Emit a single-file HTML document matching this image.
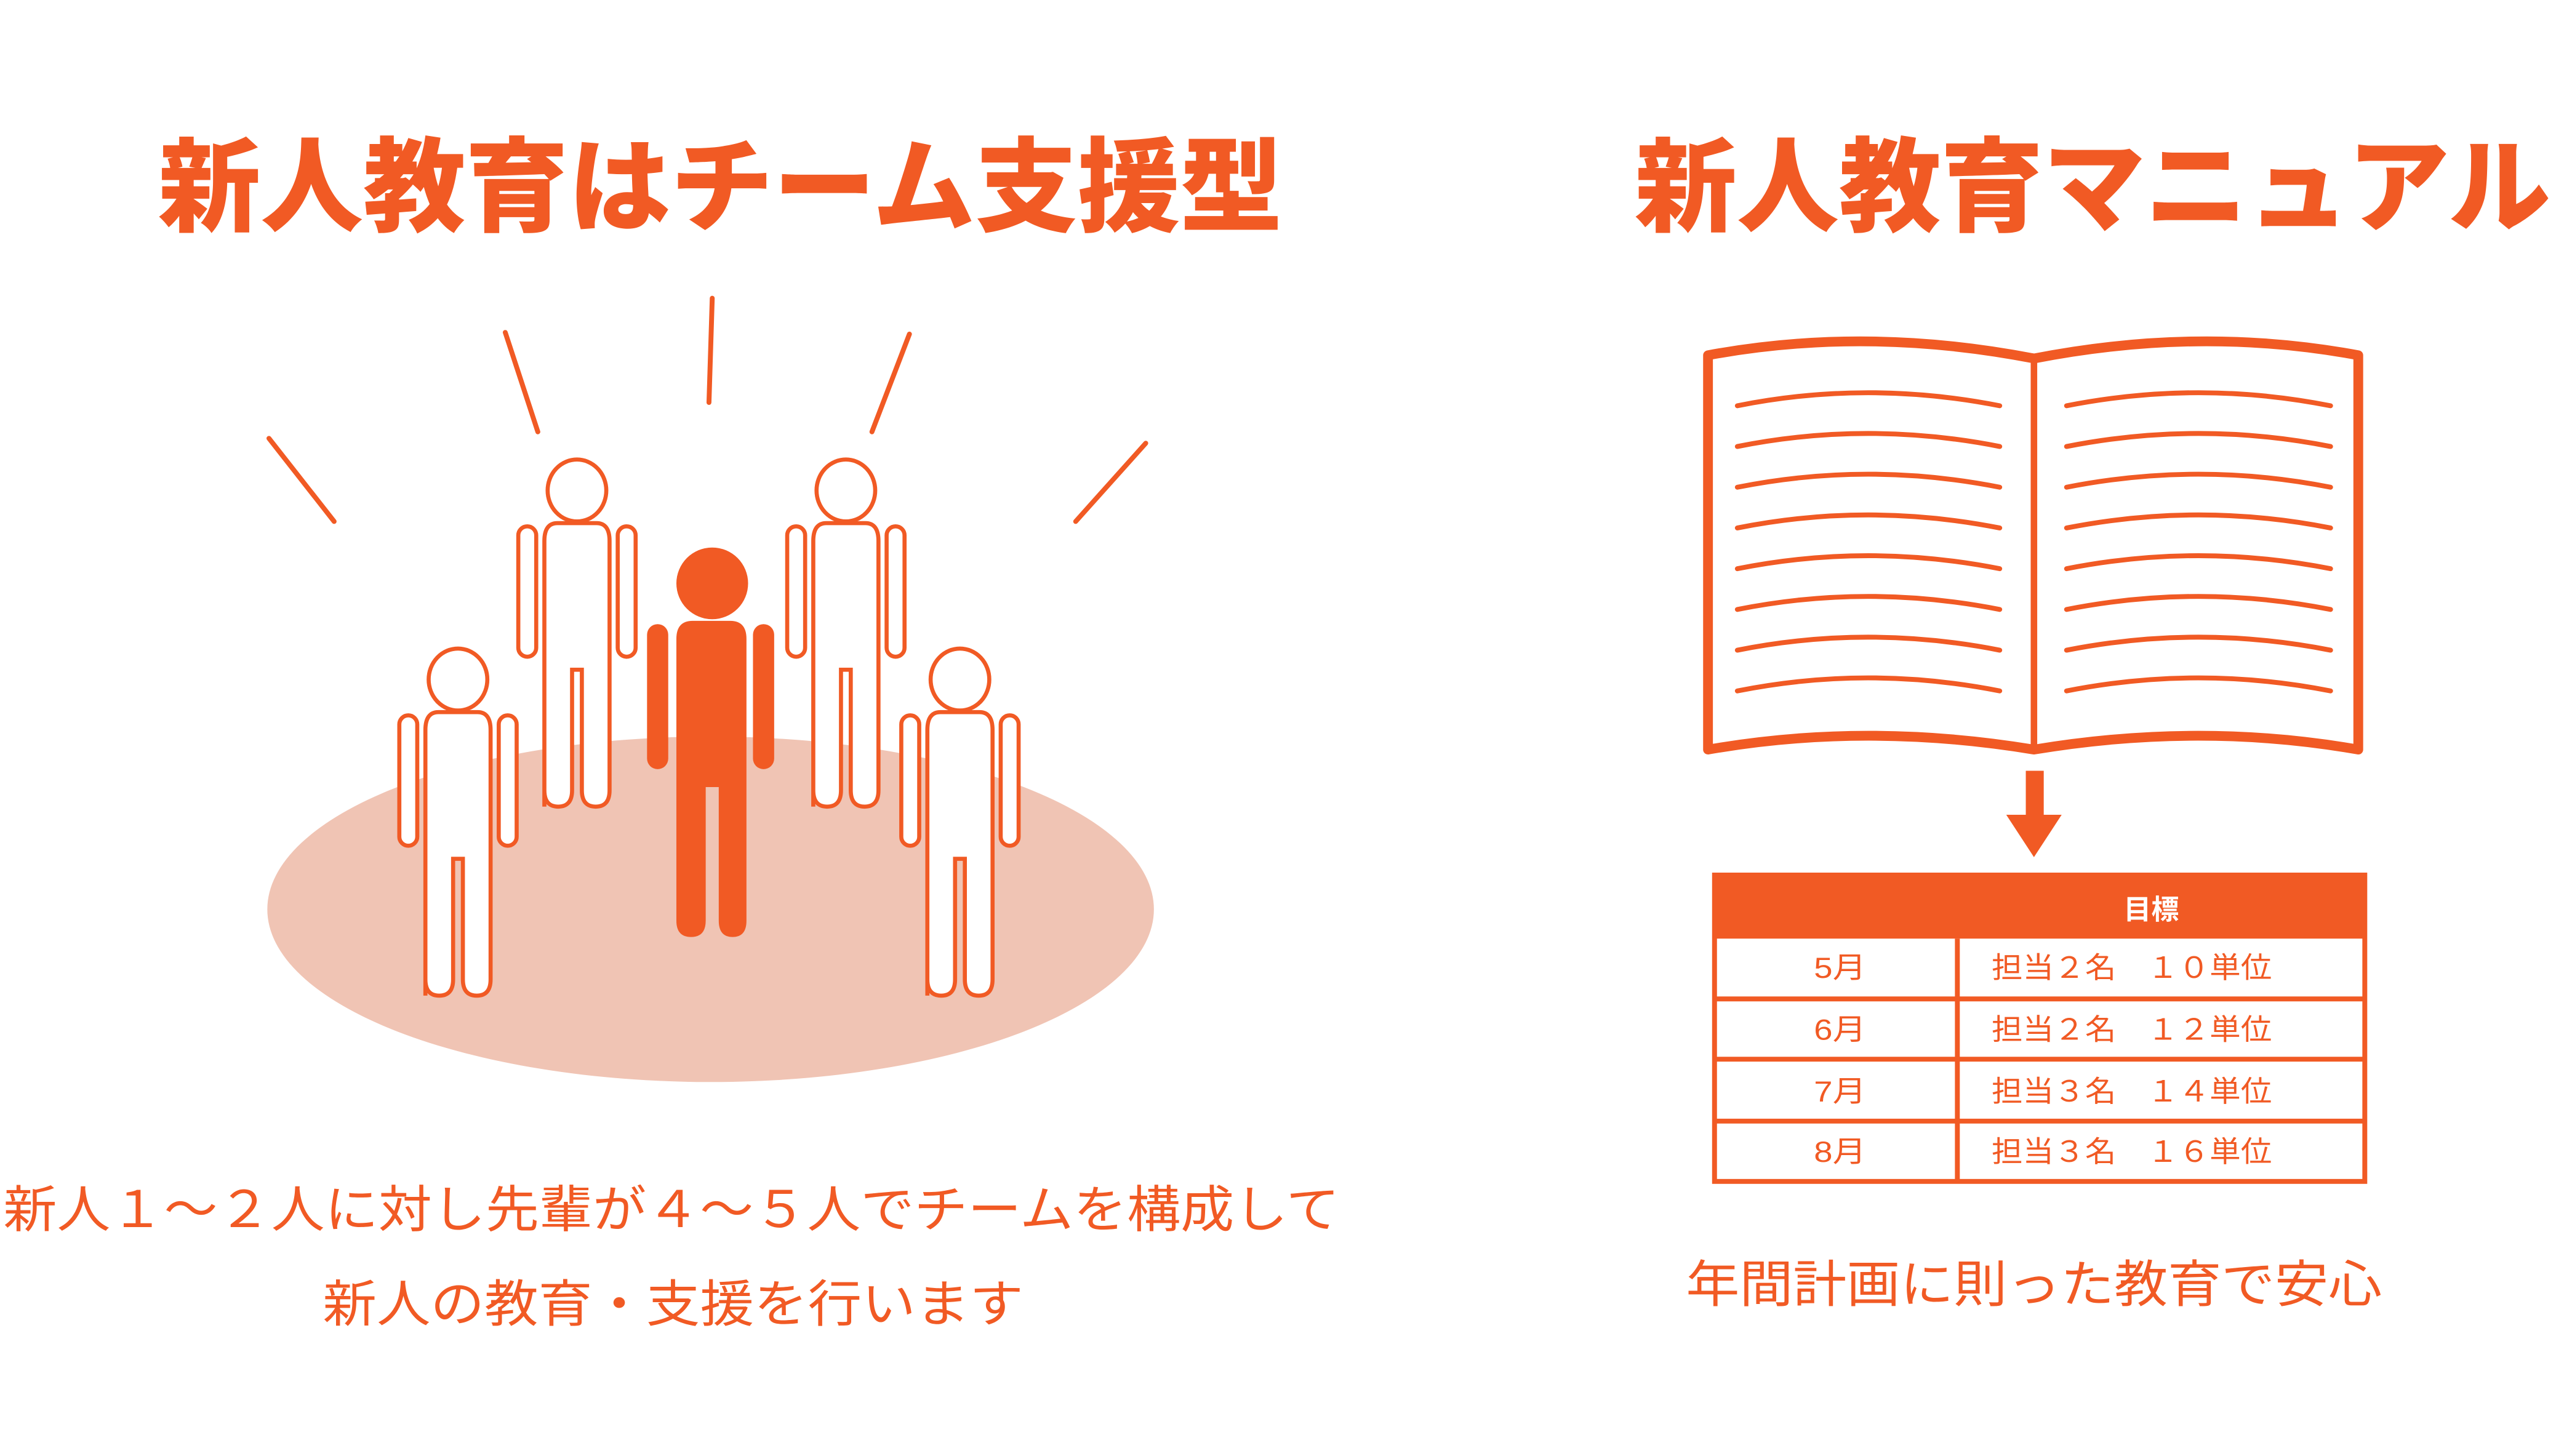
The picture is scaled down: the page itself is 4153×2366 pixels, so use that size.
<!DOCTYPE html>
<html><head><meta charset="utf-8"><style>
html,body{margin:0;padding:0;background:#fff;}
svg{display:block;}
text{font-family:"Liberation Sans","Noto Sans CJK JP",sans-serif;}
</style></head><body>
<svg width="4153" height="2366" viewBox="0 0 1568.3 893.5" xmlns="http://www.w3.org/2000/svg">
<defs>
<g id="p">
  <ellipse cx="0" cy="19" rx="18" ry="19" fill="#fff" stroke="#f15a24" stroke-width="2.5"/>
  <rect x="-36" y="41" width="11" height="80" rx="5.5" fill="#fff" stroke="#f15a24" stroke-width="2.5"/>
  <rect x="25" y="41" width="11" height="80" rx="5.5" fill="#fff" stroke="#f15a24" stroke-width="2.5"/>
  <path d="M-20,213 L-20,50 Q-20,39 -12,39 L12,39 Q20,39 20,50 L20,203 Q20,213 11.5,213 Q3,213 3,203 L3,129 L-3,129 L-3,203 Q-3,213 -11.5,213 Q-20,213 -20,203 Z" fill="#fff" stroke="#f15a24" stroke-width="2.5"/>
</g>
</defs>
<g fill="#f15a24" font-weight="900">
<text x="97" y="137" font-size="63" textLength="690" lengthAdjust="spacingAndGlyphs">新人教育はチーム支援型</text>
<text x="1003" y="137" font-size="63" textLength="562" lengthAdjust="spacingAndGlyphs">新人教育マニュアル</text>
</g>
<g stroke="#f15a24" stroke-width="3" stroke-linecap="round">
<line x1="165" y1="269" x2="205" y2="320"/>
<line x1="310" y1="204" x2="330" y2="265"/>
<line x1="437" y1="183" x2="435" y2="247"/>
<line x1="558" y1="205" x2="535" y2="265"/>
<line x1="703" y1="272" x2="660" y2="320"/>
</g>
<ellipse cx="436" cy="558" rx="272" ry="106" fill="#f0c4b4"/>
<use href="#p" transform="translate(354,282)"/>
<use href="#p" transform="translate(519,282)"/>
<use href="#p" transform="translate(281,398)"/>
<use href="#p" transform="translate(589,398)"/>
<g fill="#f15a24">
<ellipse cx="437" cy="358" rx="22" ry="22"/>
<rect x="397" y="383" width="13" height="89" rx="6.5"/>
<rect x="462" y="383" width="13" height="89" rx="6.5"/>
<path d="M415,565 L415,392 Q415,381 425,381 L448,381 Q458,381 458,392 L458,565 Q458,575 449.5,575 Q441,575 441,565 L441,483 L433,483 L433,565 Q433,575 424,575 Q415,575 415,565 Z"/>
</g>
<g fill="#f15a24">
<text x="412" y="753" font-size="31" text-anchor="middle" textLength="820" lengthAdjust="spacingAndGlyphs">新人１～２人に対し先輩が４～５人でチームを構成して</text>
<text x="413" y="811" font-size="31" text-anchor="middle" textLength="430" lengthAdjust="spacingAndGlyphs">新人の教育・支援を行います</text>
<text x="1248" y="799" font-size="31" text-anchor="middle" textLength="427" lengthAdjust="spacingAndGlyphs">年間計画に則った教育で安心</text>
</g>
<g fill="none" stroke="#f15a24" stroke-linejoin="round">
<path d="M1048,218 Q1145,200 1248,220 Q1350,200 1447,218 L1447,460 Q1350,443 1248,460 Q1145,443 1048,460 Z" stroke-width="6"/>
<line x1="1248" y1="220" x2="1248" y2="460" stroke-width="4"/>
<g stroke-width="3" stroke-linecap="round">
<path d="M1066,249 Q1146,233 1227,249"/><path d="M1066,274 Q1146,258 1227,274"/><path d="M1066,299 Q1146,283 1227,299"/><path d="M1066,324 Q1146,308 1227,324"/><path d="M1066,349 Q1146,333 1227,349"/><path d="M1066,374 Q1146,358 1227,374"/><path d="M1066,399 Q1146,383 1227,399"/><path d="M1066,424 Q1146,408 1227,424"/>
<path d="M1268,249 Q1349,233 1430,249"/><path d="M1268,274 Q1349,258 1430,274"/><path d="M1268,299 Q1349,283 1430,299"/><path d="M1268,324 Q1349,308 1430,324"/><path d="M1268,349 Q1349,333 1430,349"/><path d="M1268,374 Q1349,358 1430,374"/><path d="M1268,399 Q1349,383 1430,399"/><path d="M1268,424 Q1349,408 1430,424"/>
</g>
</g>
<g fill="#f15a24">
<rect x="1243" y="473" width="11" height="28"/>
<polygon points="1231,500 1265,500 1248,526"/>
<rect x="1051" y="536" width="401" height="40"/>
</g>
<g fill="none" stroke="#f15a24" stroke-width="3">
<rect x="1052" y="537" width="399" height="188"/>
<line x1="1052" y1="613" x2="1451" y2="613"/>
<line x1="1052" y1="650" x2="1451" y2="650"/>
<line x1="1052" y1="688" x2="1451" y2="688"/>
<line x1="1201" y1="576" x2="1201" y2="725"/>
</g>
<text x="1320" y="564" font-size="17" font-weight="bold" fill="#fff" text-anchor="middle">目標</text>
<g fill="#f15a24" font-size="18">
<text x="1113" y="600" textLength="32" lengthAdjust="spacingAndGlyphs">5月</text>
<text x="1113" y="638" textLength="32" lengthAdjust="spacingAndGlyphs">6月</text>
<text x="1113" y="676" textLength="32" lengthAdjust="spacingAndGlyphs">7月</text>
<text x="1113" y="713" textLength="32" lengthAdjust="spacingAndGlyphs">8月</text>
<text x="1222" y="600" textLength="172" lengthAdjust="spacingAndGlyphs">担当２名　１０単位</text>
<text x="1222" y="638" textLength="172" lengthAdjust="spacingAndGlyphs">担当２名　１２単位</text>
<text x="1222" y="676" textLength="172" lengthAdjust="spacingAndGlyphs">担当３名　１４単位</text>
<text x="1222" y="713" textLength="172" lengthAdjust="spacingAndGlyphs">担当３名　１６単位</text>
</g>
</svg>
</body></html>
